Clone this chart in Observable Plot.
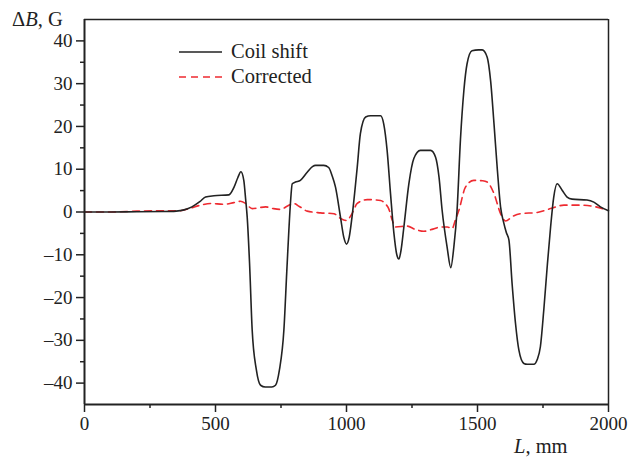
<!DOCTYPE html>
<html><head><meta charset="utf-8">
<script src="https://cdn.jsdelivr.net/npm/d3@7"></script>
<script src="https://cdn.jsdelivr.net/npm/@observablehq/plot@0.6"></script>
<style>body{margin:0;background:#fff}#chart{width:630px;height:461px}</style>
</head><body><div id="chart"></div>
<script>
const coilL = [0,100,200,300,350,380,410,440,462,494,551,570,585,597,608,615,621,630,640,656,672,690,715,729,744,761,772,780,786,793,805,824,850,870,882,913,932,945,958,977,990,1000,1010,1021,1041,1053,1073,1092,1130,1142,1155,1168,1181,1192,1200,1208,1219,1238,1257,1282,1321,1340,1353,1365,1384,1398,1410,1422,1435,1448,1460,1479,1504,1518,1537,1550,1563,1576,1588,1600,1610,1620,1632,1645,1658,1677,1690,1715,1728,1740,1753,1766,1779,1791,1804,1823,1842,1861,1918,1944,1969,2000];
const coilB = [0,0,0.05,0.1,0.2,0.5,1.2,2.4,3.5,3.8,4.0,5.7,8.0,9.4,7.4,3,-1.2,-12,-27.6,-36.9,-40.5,-40.9,-40.9,-40.5,-36.9,-27.6,-14,-4.3,2,6.6,7.0,7.4,9.3,10.6,10.9,10.9,10.4,8.5,5.8,-1.2,-6,-7.5,-6,-1.2,10.5,18.3,22.2,22.5,22.5,20.6,14.4,4.3,-5.0,-10,-11,-9,-3.5,6.6,12.5,14.4,14.4,12.8,8.2,0.4,-8.2,-13,-8,0.4,17,28.4,34.6,37.7,37.9,37.9,36.2,30.7,20.6,9.7,1.2,-2.5,-4.8,-6.6,-16.7,-26,-32.3,-35.4,-35.6,-35.6,-34.5,-31.5,-22.9,-12.8,-3.5,3.5,6.6,5.1,3.5,3.0,2.8,2.3,1.2,0.3];
const corrL = [0,100,200,300,366,400,443,481,532,570,595,615,640,665,691,720,748,775,798,820,850,901,952,977,1000,1020,1041,1079,1130,1150,1161,1175,1187,1232,1260,1295,1330,1359,1385,1403,1415,1429,1454,1486,1520,1537,1563,1588,1607,1635,1664,1728,1779,1830,1893,1944,1995];
const corrB = [0,0,0.2,0.3,0.3,0.8,1.6,2.0,1.8,2.2,2.5,2.0,0.8,1.0,1.2,0.8,0.6,1.4,2.0,1.3,0.2,-0.2,-0.4,-1.5,-2.0,-0.5,2.0,2.9,2.7,1.8,0.8,-2,-3.5,-3.3,-4.0,-4.5,-4.0,-3.5,-3.5,-3.9,-2,0.4,5.8,7.4,7.3,7.0,4.3,-0.4,-2.1,-1.0,-0.4,-0.1,0.8,1.6,1.6,1.3,0.4];
const xTicks = [0,500,1000,1500,2000];
const xMinor = [250,750,1250,1750];
const yTicks = [-40,-30,-20,-10,0,10,20,30,40];
const yMinor = [-35,-25,-15,-5,5,15,25,35];
const seriesNames = ["Coil shift","Corrected"];

const coil = coilL.map((L,i)=>({L, B: coilB[i]}));
const corr = corrL.map((L,i)=>({L, B: corrB[i]}));
const ink = "#222";
const red = "#ee2a30";
const font = "Liberation Serif";

const chart = Plot.plot({
  width: 630, height: 461,
  marginTop: 19, marginBottom: 57, marginLeft: 84, marginRight: 22,
  style: {fontFamily: font, fontSize: "19px", color: ink, background: "#fff"},
  x: {domain: [0,2000]},
  y: {domain: [-45,45]},
  marks: [
    Plot.axisX({ticks: xTicks, tickSize: 8, tickPadding: 4, label: null, tickFormat: d => String(d), stroke: ink, strokeWidth: 1.5, fill: ink}),
    Plot.axisX({ticks: xMinor, tickSize: 4, label: null, tickFormat: () => "", stroke: ink, strokeWidth: 1.5}),
    Plot.axisY({ticks: yTicks, tickSize: 8, tickPadding: 4, label: null, tickFormat: d => d < 0 ? "\u2013" + Math.abs(d) : String(d), stroke: ink, strokeWidth: 1.5, fill: ink}),
    Plot.axisY({ticks: yMinor, tickSize: 4, label: null, tickFormat: () => "", stroke: ink, strokeWidth: 1.5}),
    Plot.line(corr, {x: "L", y: "B", stroke: red, strokeWidth: 1.6, strokeDasharray: "7,5", curve: "monotone-x"}),
    Plot.line(coil, {x: "L", y: "B", stroke: ink, strokeWidth: 1.6, curve: "monotone-x"}),
    Plot.ruleY([45], {stroke: ink, strokeWidth: 1.5}),
    Plot.ruleX([2000], {stroke: ink, strokeWidth: 1.5}),
    Plot.ruleX([0], {stroke: ink, strokeWidth: 2}),
    Plot.ruleY([-45], {stroke: ink, strokeWidth: 2})
  ]
});
document.getElementById("chart").appendChild(chart);

const svg = d3.select(chart);
svg.selectAll("g[aria-label*='tick label']").attr("font-size", 19).style("font-size", "19px").attr("font-family", font);
svg.selectAll("g[aria-label*='tick label'] text").attr("font-size", 19).style("font-size", "19px");
function txt(x, y) {
  return svg.append("text").attr("x", x).attr("y", y).attr("font-family", font).attr("font-size", 20)
    .attr("fill", ink).attr("text-anchor", "start").style("font-size", "20.5px");
}
// axis titles
const yt = txt(12, 26);
yt.append("tspan").text("\u0394");
yt.append("tspan").attr("font-style", "italic").text("B");
yt.append("tspan").text(", G");
const xt = txt(514, 453);
xt.append("tspan").attr("font-style", "italic").text("L");
xt.append("tspan").text(", mm");
// legend
svg.append("line").attr("x1", 179).attr("x2", 222).attr("y1", 52).attr("y2", 52).attr("stroke", ink).attr("stroke-width", 1.6);
svg.append("line").attr("x1", 179).attr("x2", 222).attr("y1", 77).attr("y2", 77).attr("stroke", red).attr("stroke-width", 1.6).attr("stroke-dasharray", "7,5");
txt(231, 58).text(seriesNames[0]);
txt(231, 83).text(seriesNames[1]);
</script>
</body></html>
